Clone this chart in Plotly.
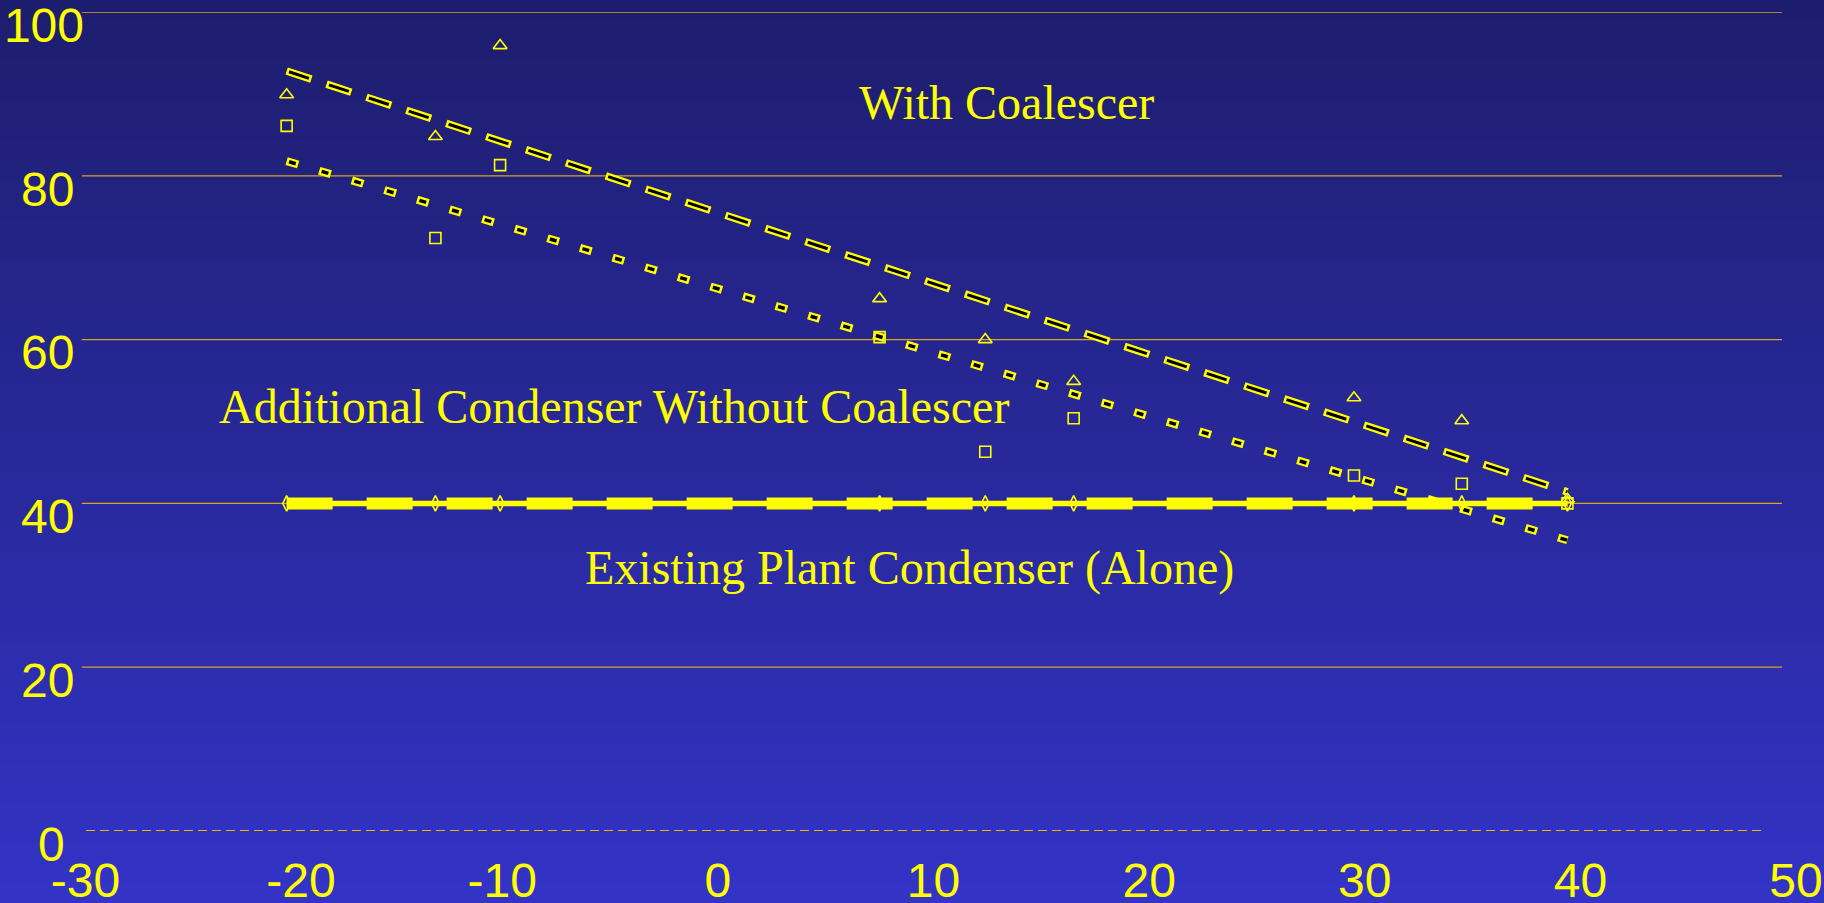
import plotly.graph_objects as go

# Measurements at each test point
x_vals = [-20, -13.1, -10.1, 7.5, 12.4, 16.5, 29.5, 34.5, 39.4]
with_coalescer = [89.9, 84.8, 95.9, 65.0, 60.0, 54.9, 52.9, 50.1, 40.5]
additional_no_coalescer = [86.1, 72.4, 81.3, 60.3, 46.3, 50.4, 43.4, 42.4, 40.0]
existing_alone = [40, 40, 40, 40, 40, 40, 40, 40, 40]

# Linear trend lines (end points over the measured range)
trend_x = [-20, 39.4]
with_coalescer_trend = [92.8, 41.4]
additional_trend = [81.8, 35.5]
existing_trend = [40, 40]

# Axes
x_ticks = [-30, -20, -10, 0, 10, 20, 30, 40, 50]
x_tick_text = ["\u2009\u2009\u2009-30", "\u2009\u2009\u2009-20", "-10", "0", "10", "20", "30", "40", "50"]
y_ticks = [0, 20, 40, 60, 80, 100]
y_tick_text = ["0\u2009\u2009", "20\u2009", "40\u2009", "60\u2009", "80\u2009", "100"]

# Series labels
labels = ["With Coalescer", "Additional Condenser Without Coalescer", "Existing Plant Condenser (Alone)"]
label_x = [13.4, -4.8, 8.9]
label_y = [89.0, 51.8, 32.1]

YELLOW = "#ffff00"
GRID = "#d9a521"
W, H = 1824, 903
M_L, M_R, M_T, M_B = 71, 28, 12, 72

fig = go.Figure()

# Outlined trend lines: wide yellow dashes with a narrower black core
def outlined_trend(y, dash_len, gap_len, outer_w, inner_w, inset):
    period = dash_len + gap_len
    fig.add_trace(go.Scatter(
        x=trend_x, y=y, mode="lines", hoverinfo="skip",
        line=dict(color=YELLOW, width=outer_w, dash=f"{dash_len}px,{gap_len}px"),
    ))
    inner = dash_len - 2 * inset
    fig.add_trace(go.Scatter(
        x=trend_x, y=y, mode="lines", hoverinfo="skip",
        line=dict(color="#000000", width=inner_w,
                  dash=f"0px,{inset}px,{inner}px,{period - inset - inner}px"),
    ))

outlined_trend(with_coalescer_trend, 26, 16, 7.5, 3, 2.5)
outlined_trend(additional_trend, 12, 22, 8, 3.5, 2.5)

# Existing plant condenser: solid series line plus heavy dashed trend
fig.add_trace(go.Scatter(
    x=trend_x, y=existing_trend, mode="lines", hoverinfo="skip",
    line=dict(color=YELLOW, width=12, dash="46px,34px"),
))
fig.add_trace(go.Scatter(
    x=x_vals, y=existing_alone, mode="lines+markers", name=labels[2],
    line=dict(color=YELLOW, width=5.5),
    marker=dict(symbol="diamond-tall-open", size=11, color=YELLOW, line=dict(width=1.6, color=YELLOW)),
))

fig.add_trace(go.Scatter(
    x=x_vals, y=with_coalescer, mode="markers", name=labels[0],
    marker=dict(symbol="triangle-up-open", size=12, color=YELLOW, line=dict(width=1.6, color=YELLOW)),
))
fig.add_trace(go.Scatter(
    x=x_vals, y=additional_no_coalescer, mode="markers", name=labels[1],
    marker=dict(symbol="square-open", size=11, color=YELLOW, line=dict(width=1.6, color=YELLOW)),
))

# Vertical background gradient
shapes = []
plot_h = H - M_T - M_B
n_bands = 90
top_rgb = (29, 29, 110)
bot_rgb = (51, 51, 198)
for i in range(n_bands):
    p0 = i * H / n_bands
    p1 = (i + 1) * H / n_bands + 1
    t = (p0 + p1) / 2 / H
    c = tuple(round(a + (b - a) * t) for a, b in zip(top_rgb, bot_rgb))
    shapes.append(dict(
        type="rect", xref="paper", yref="paper", layer="below",
        x0=-0.1, x1=1.1,
        y0=(H - M_B - p1) / plot_h, y1=(H - M_B - p0) / plot_h,
        fillcolor=f"rgb{c}", line=dict(width=0),
    ))

# Horizontal grid lines; the baseline is dashed
for yv in y_ticks:
    if yv == 0:
        shapes.append(dict(type="line", xref="x", yref="y", layer="below",
                           x0=-29.3, x1=48.6, y0=yv, y1=yv,
                           line=dict(color="#f0b400", width=2, dash="9px,5px")))
    else:
        shapes.append(dict(type="line", xref="x", yref="y", layer="below",
                           x0=-29.5, x1=49.35, y0=yv, y1=yv,
                           line=dict(color=GRID, width=1.3)))

annotations = [
    dict(x=lx, y=ly, xref="x", yref="y", text=t, showarrow=False,
         xanchor="center", yanchor="middle",
         font=dict(family="Liberation Serif, Times New Roman, serif", size=48, color=YELLOW))
    for t, lx, ly in zip(labels, label_x, label_y)
]

tick_font = dict(family="Liberation Sans, Arial, sans-serif", size=48, color=YELLOW)

fig.update_layout(
    width=W, height=H,
    margin=dict(l=M_L, r=M_R, t=M_T, b=M_B, pad=0, autoexpand=False),
    paper_bgcolor="rgb(40,40,150)",
    plot_bgcolor="rgba(0,0,0,0)",
    showlegend=False,
    shapes=shapes,
    annotations=annotations,
    xaxis=dict(
        range=[-30, 50], tickvals=x_ticks, ticktext=x_tick_text,
        showgrid=False, zeroline=False, showline=False, ticks="",
        tickfont=tick_font, ticklabelstandoff=17, automargin=False,
        ticklabeloverflow="allow",
    ),
    yaxis=dict(
        range=[0, 100], tickvals=y_ticks, ticktext=y_tick_text,
        showgrid=False, zeroline=False, showline=False, ticks="",
        tickfont=tick_font, ticklabelshift=13, ticklabelstandoff=-14,
        automargin=False, ticklabeloverflow="allow",
    ),
)

fig.write_html("out.html")
